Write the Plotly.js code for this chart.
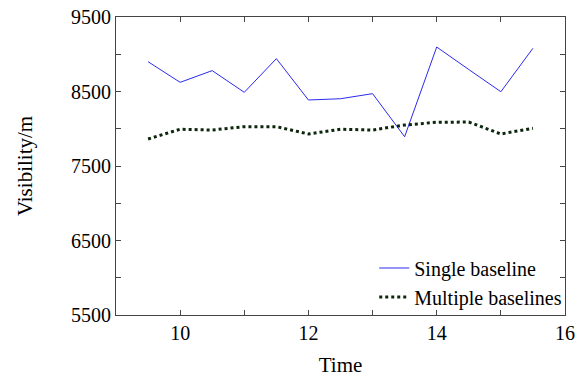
<!DOCTYPE html>
<html>
<head>
<meta charset="utf-8">
<script src="https://cdn.plot.ly/plotly-3.0.1.min.js"></script>
<style>html,body{margin:0;padding:0;background:#fff;}#chart{width:582px;height:380px;}</style>
</head>
<body>
<div id="chart"></div>
<script>
const time = [9.5, 10, 10.5, 11, 11.5, 12, 12.5, 13, 13.5, 14, 14.5, 15, 15.5];
const singleBaseline = [8900, 8623, 8780, 8489, 8941, 8386, 8403, 8471, 7893, 9097, 8795, 8497, 9080];
const multipleBaselines = [7862, 7993, 7983, 8028, 8028, 7930, 7993, 7983, 8050, 8087, 8090, 7930, 8006];
const seriesNames = ["Single baseline", "Multiple baselines"];

const font = {family: "Liberation Serif, Times New Roman, serif", color: "#000"};

const traces = [
  {x: time, y: singleBaseline, name: seriesNames[0], type: "scatter", mode: "lines",
   line: {color: "#2a2af0", width: 1}},
  {x: time, y: multipleBaselines, name: seriesNames[1], type: "scatter", mode: "lines",
   line: {color: "#0b260b", width: 3, dash: "dot"}}
];

const layout = {
  width: 582, height: 380,
  margin: {l: 116, r: 17, t: 17, b: 65},
  paper_bgcolor: "#fff", plot_bgcolor: "#fff",
  font: Object.assign({size: 20}, font),
  showlegend: true,
  legend: {x: 1.005, xanchor: "right", y: -0.005, yanchor: "bottom", bgcolor: "rgba(0,0,0,0)",
           font: Object.assign({size: 20}, font), itemwidth: 30, tracegroupgap: 0},
  xaxis: {
    range: [9, 16], tick0: 10, dtick: 2, ticks: "inside", ticklen: 5, tickcolor: "#444",
    showline: true, linecolor: "#444", linewidth: 1, mirror: "ticks", showgrid: false, zeroline: false,
    minor: {dtick: 1, tick0: 9, ticks: "inside", ticklen: 5, tickcolor: "#444", showgrid: false},
    tickfont: Object.assign({size: 20}, font),
    title: {text: "Time", font: Object.assign({size: 21}, font), standoff: 14}
  },
  yaxis: {
    range: [5500, 9500], tick0: 5500, dtick: 1000, ticks: "inside", ticklen: 5, tickcolor: "#444",
    showline: true, linecolor: "#444", linewidth: 1, mirror: "ticks", showgrid: false, zeroline: false,
    minor: {dtick: 500, tick0: 5500, ticks: "inside", ticklen: 5, tickcolor: "#444", showgrid: false},
    tickfont: Object.assign({size: 20}, font),
    title: {text: "Visibility/m", font: Object.assign({size: 21}, font), standoff: 32}
  }
};

Plotly.newPlot("chart", traces, layout, {displayModeBar: false, staticPlot: true});
</script>
</body>
</html>
